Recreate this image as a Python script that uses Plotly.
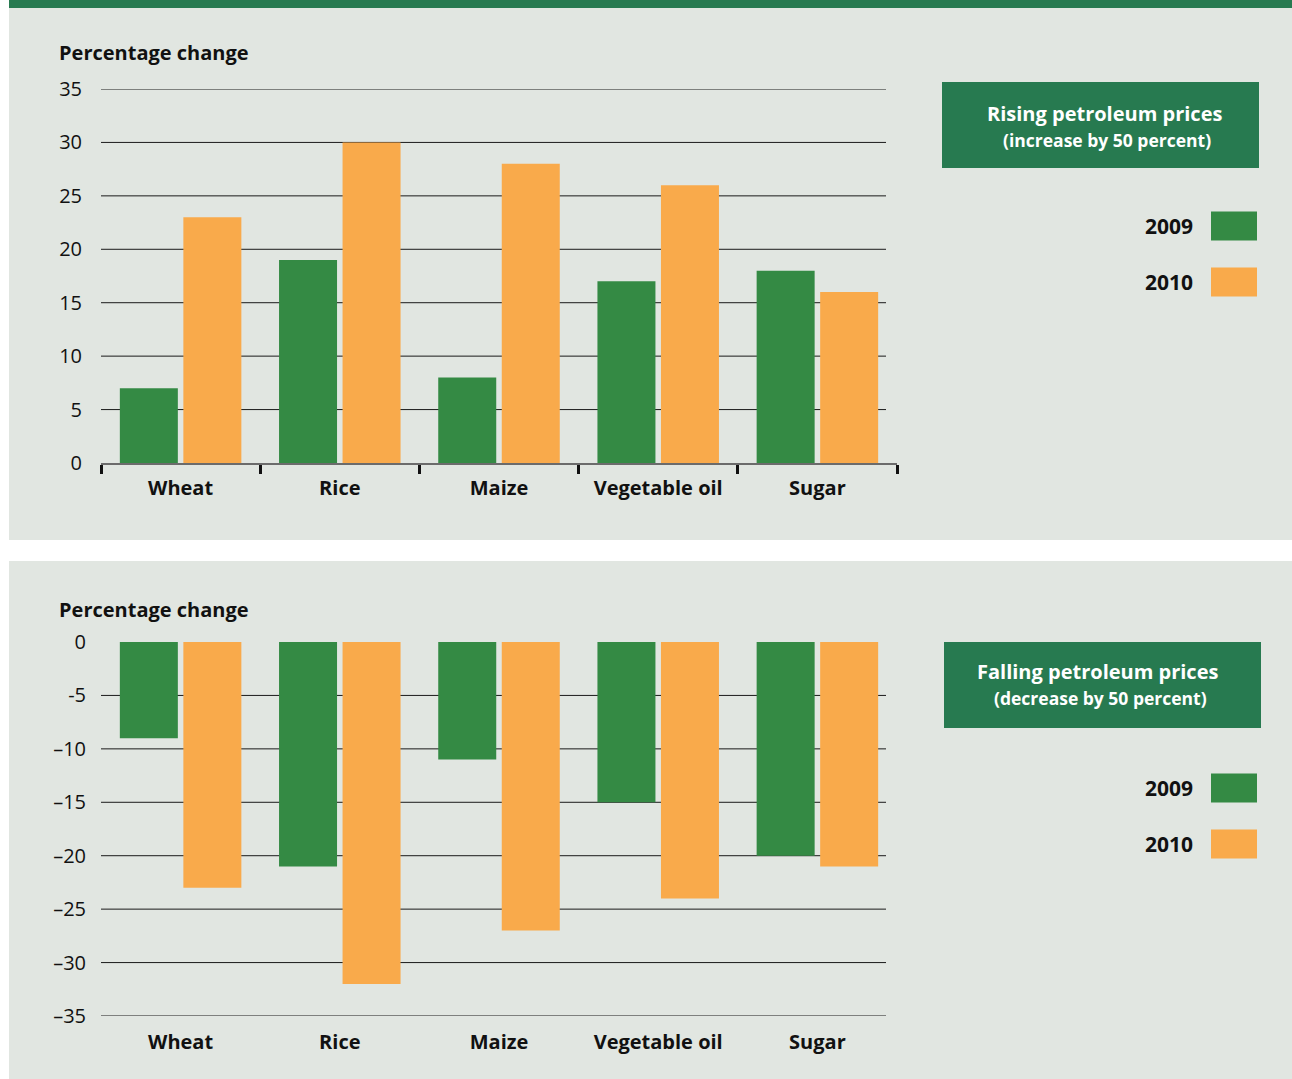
import plotly.graph_objects as go

# ---- data -------------------------------------------------------------
categories = ["Wheat", "Rice", "Maize", "Vegetable oil", "Sugar"]

rise_2009 = [7, 19, 8, 17, 18]
rise_2010 = [23, 30, 28, 26, 16]

fall_2009 = [-9, -21, -11, -15, -20]
fall_2010 = [-23, -32, -27, -24, -21]

rise_ticks = [0, 5, 10, 15, 20, 25, 30, 35]
rise_ticktext = ["0", "5", "10", "15", "20", "25", "30", "35"]
fall_ticks = [0, -5, -10, -15, -20, -25, -30, -35]
fall_ticktext = ["0", "-5", "\u201310", "\u201315", "\u201320", "\u201325", "\u201330", "\u201335"]

series_names = ["2009", "2010"]
panel_titles = [
    ("Rising petroleum prices", "(increase by 50 percent)"),
    ("Falling petroleum prices", "(decrease by 50 percent)"),
]

# ---- styling ----------------------------------------------------------
W, H = 1292, 1079
GREEN = "#348a44"
ORANGE = "#f9aa4b"
DARK_GREEN = "#277a50"
PANEL = "#e1e6e1"
TEXT = "#111111"
FONT = "Open Sans"


def fx(x):
    return x / W


def fy(y):
    return 1 - y / H


X_DOMAIN = [fx(101), fx(897)]
TOP_DOMAIN = [fy(463), fy(89)]
BOT_DOMAIN = [fy(1016), fy(642)]
GRID_END = (886 - 101) / (897 - 101)

fig = go.Figure()

# bars: upper chart
fig.add_trace(go.Bar(x=categories, y=rise_2009, name=series_names[0],
                     marker=dict(color=GREEN, line=dict(width=0)),
                     xaxis="x", yaxis="y"))
fig.add_trace(go.Bar(x=categories, y=rise_2010, name=series_names[1],
                     marker=dict(color=ORANGE, line=dict(width=0)),
                     xaxis="x", yaxis="y"))
# bars: lower chart
fig.add_trace(go.Bar(x=categories, y=fall_2009, name=series_names[0],
                     marker=dict(color=GREEN, line=dict(width=0)),
                     xaxis="x2", yaxis="y2"))
fig.add_trace(go.Bar(x=categories, y=fall_2010, name=series_names[1],
                     marker=dict(color=ORANGE, line=dict(width=0)),
                     xaxis="x2", yaxis="y2"))

shapes = []
# top stripe and the two panels
shapes.append(dict(type="rect", xref="paper", yref="paper",
                   x0=fx(9), x1=1, y0=fy(8), y1=1,
                   fillcolor=DARK_GREEN, line=dict(width=0), layer="below"))
shapes.append(dict(type="rect", xref="paper", yref="paper",
                   x0=fx(9), x1=1, y0=fy(540), y1=fy(8),
                   fillcolor=PANEL, line=dict(width=0), layer="below"))
shapes.append(dict(type="rect", xref="paper", yref="paper",
                   x0=fx(9), x1=1, y0=0, y1=fy(561),
                   fillcolor=PANEL, line=dict(width=0), layer="below"))

# horizontal grid lines (stop a little short of the last boundary tick)
for v in rise_ticks[1:]:
    shapes.append(dict(type="line", xref="x domain", yref="y",
                       x0=0, x1=GRID_END, y0=v, y1=v,
                       line=dict(color="#1a1a1a", width=1), layer="below"))
for v in fall_ticks[1:]:
    shapes.append(dict(type="line", xref="x2 domain", yref="y2",
                       x0=0, x1=GRID_END, y0=v, y1=v,
                       line=dict(color="#1a1a1a", width=1), layer="below"))

annotations = []
for y_label in (53, 609):
    annotations.append(dict(text="<b>Percentage change</b>", xref="paper", yref="paper",
                            x=fx(57), y=fy(y_label), xanchor="left", yanchor="middle",
                            showarrow=False, font=dict(family=FONT, size=20, color=TEXT)))

# title boxes with custom legends
boxes = [
    dict(x0=942, x1=1259, y0=82, y1=168, t1=113, t2=140, cx=1104, leg=(226, 282)),
    dict(x0=944, x1=1261, y0=642, y1=728, t1=671, t2=698, cx=1097, leg=(788, 844)),
]
for (title, sub), b in zip(panel_titles, boxes):
    shapes.append(dict(type="rect", xref="paper", yref="paper",
                       x0=fx(b["x0"]), x1=fx(b["x1"]), y0=fy(b["y1"]), y1=fy(b["y0"]),
                       fillcolor=DARK_GREEN, line=dict(width=0), layer="below"))
    annotations.append(dict(text="<b>" + title + "</b>", xref="paper", yref="paper",
                            x=fx(b["cx"]), y=fy(b["t1"]), xanchor="center", yanchor="middle",
                            showarrow=False, font=dict(family=FONT, size=20, color="white")))
    annotations.append(dict(text="<b>" + sub + "</b>", xref="paper", yref="paper",
                            x=fx(b["cx"] + 3), y=fy(b["t2"]), xanchor="center", yanchor="middle",
                            showarrow=False, font=dict(family=FONT, size=17.5, color="white")))
    for name, color, yc in zip(series_names, [GREEN, ORANGE], b["leg"]):
        annotations.append(dict(text="<b>" + name + "</b>", xref="paper", yref="paper",
                                x=fx(1195), y=fy(yc), xanchor="right", yanchor="middle",
                                showarrow=False, font=dict(family=FONT, size=21, color=TEXT)))
        shapes.append(dict(type="rect", xref="paper", yref="paper",
                           x0=fx(1211), x1=fx(1257), y0=fy(yc + 14.5), y1=fy(yc - 14.5),
                           fillcolor=color, line=dict(width=0)))

cat_font = dict(family=FONT, size=20, color=TEXT, weight="bold")
num_font = dict(family=FONT, size=20, color=TEXT)

fig.update_layout(
    width=W, height=H, autosize=False,
    margin=dict(l=0, r=0, t=0, b=0, pad=0, autoexpand=False),
    paper_bgcolor="white", plot_bgcolor="rgba(0,0,0,0)",
    barmode="group", bargap=0.202, bargroupgap=0.087,
    showlegend=False,
    font=dict(family=FONT, color=TEXT),
    shapes=shapes, annotations=annotations,
    xaxis=dict(domain=X_DOMAIN, anchor="y", type="category", automargin=False,
               categoryorder="array", categoryarray=categories,
               showline=True, linecolor="#6b6b6b", linewidth=2,
               ticks="outside", tickson="boundaries", ticklen=9, tickwidth=2.5,
               tickcolor=TEXT, tickfont=cat_font, ticklabelstandoff=6,
               showgrid=False, zeroline=False, fixedrange=True),
    yaxis=dict(domain=TOP_DOMAIN, anchor="x", range=[0, 35], automargin=False,
               tickvals=rise_ticks, ticktext=rise_ticktext, ticks="",
               tickfont=num_font, ticklabelstandoff=18,
               showgrid=False, zeroline=False, showline=False, fixedrange=True),
    xaxis2=dict(domain=X_DOMAIN, anchor="y2", type="category", automargin=False,
                categoryorder="array", categoryarray=categories,
                showline=False, ticks="", tickfont=cat_font, ticklabelstandoff=12,
                showgrid=False, zeroline=False, fixedrange=True),
    yaxis2=dict(domain=BOT_DOMAIN, anchor="x2", range=[-35, 0], automargin=False,
                tickvals=fall_ticks, ticktext=fall_ticktext, ticks="",
                tickfont=num_font, ticklabelstandoff=14,
                showgrid=False, zeroline=False, showline=False, fixedrange=True),
    # zero baseline of the lower chart with boundary ticks hanging into the plot
    xaxis3=dict(overlaying="x2", anchor="y2", side="top", type="linear", automargin=False,
                range=[-0.5, len(categories) - 0.5],
                tickvals=[i - 0.5 for i in range(len(categories) + 1)],
                ticks="inside", ticklen=9, tickwidth=2.5, tickcolor=TEXT,
                showticklabels=False, showline=True, linecolor="#6b6b6b", linewidth=2,
                showgrid=False, zeroline=False, fixedrange=True),
)

fig.write_html("out.html")
